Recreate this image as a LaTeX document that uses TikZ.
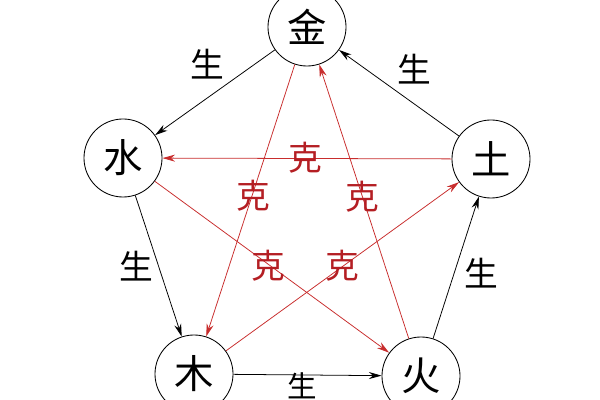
\documentclass[tikz,border=0pt]{standalone}
\usepackage{fontspec}
\newfontfamily\cjk{Noto Sans CJK SC}
\usepackage{tikz}
\usetikzlibrary{arrows.meta}
\definecolor{kered}{RGB}{200,45,45}
\definecolor{ketext}{RGB}{180,30,35}

\tikzset{
    elem/.style={draw, circle, minimum size=1.95cm, inner sep=0pt, line width=0.6pt,
        font=\cjk\fontsize{28}{28}\selectfont},
    sheng/.style={black, line width=0.55pt, -{Stealth[length=9pt, width=5pt]}},
    ke/.style={kered, line width=0.55pt, -{Stealth[length=9pt, width=5pt]}},
    shenglab/.style={inner sep=0pt, font=\cjk\fontsize{24}{24}\selectfont},
    kelab/.style={ketext, font=\cjk\fontsize{24}{24}\selectfont}
}

\begin{document}
\begin{tikzpicture}[x=0.025cm, y=-0.025cm]
            \useasboundingbox (0,0) rectangle (600,400);
            \node[elem] (J) at (307,27) {金};
            \node[elem] (S) at (123,158) {水};
            \node[elem] (T) at (491,159) {土};
            \node[elem] (M) at (194,374) {木};
            \node[elem] (H) at (421,376) {火};
            % sheng cycle
            \draw[sheng] (J) -- (S);
            \draw[sheng] (S) -- (M);
            \draw[sheng] (M) -- (H);
            \draw[sheng] (H) -- (T);
            \draw[sheng] (T) -- (J);
            % ke cycle
            \draw[ke] (J) -- (M);
            \draw[ke] (M) -- (T);
            \draw[ke] (T) -- (S);
            \draw[ke] (S) -- (H);
            \draw[ke] (H) -- (J);
            \node[shenglab] (s1) at (207,64) {生};
            \node[shenglab] (s2) at (414,69) {生};
            \node[shenglab] (s3) at (136,266) {生};
            \node[shenglab] (s4) at (481,273) {生};
            \node[shenglab, font=\cjk\fontsize{21}{21}\selectfont] (s5) at (302,386) {生};
            \node[kelab] (k1) at (305,158) {克};
            \node[kelab] (k2) at (253,196) {克};
            \node[kelab] (k3) at (362,197) {克};
            \node[kelab] (k4) at (268,266) {克};
            \node[kelab] (k5) at (342,266) {克};
        \end{tikzpicture}
\end{document}
